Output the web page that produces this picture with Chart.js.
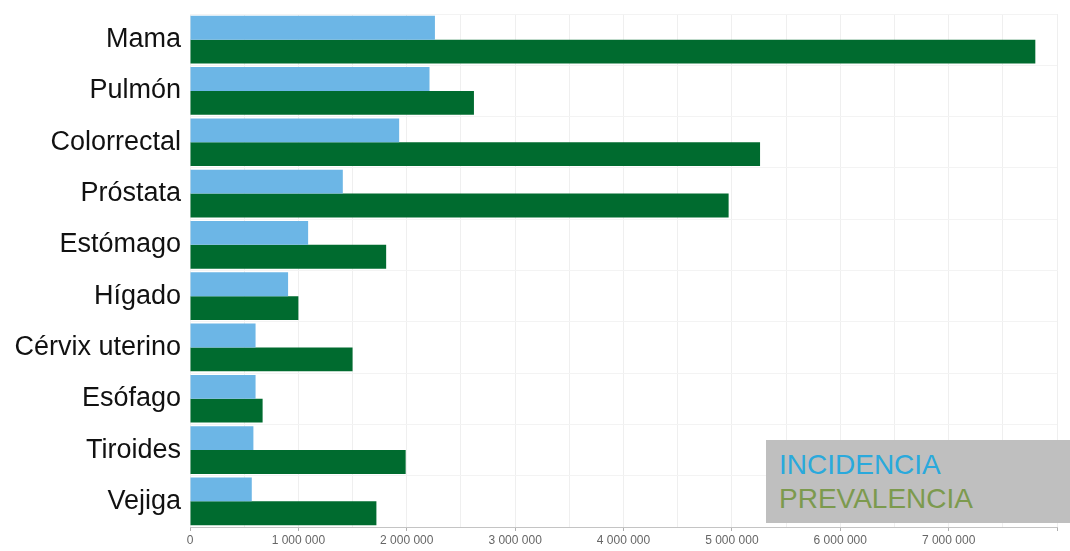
<!DOCTYPE html>
<html>
<head>
<meta charset="utf-8">
<script src="https://cdn.jsdelivr.net/npm/chart.js@4/dist/chart.umd.min.js"></script>
<style>
  html, body { margin: 0; padding: 0; background: #ffffff; }
  #wrap { position: relative; width: 1070px; height: 551px; overflow: hidden; }
  #legend {
    position: absolute; left: 766px; top: 440px; width: 304px; height: 83px;
    background: #bfbfbf; box-sizing: border-box; padding: 8px 0 0 13px;
    font-family: "Liberation Sans", Arial, sans-serif; font-size: 28px; line-height: 34px;
  }
  #legend .inc { color: #2aa9dc; }
  #legend .prev { color: #7c9a4e; }
</style>
</head>
<body>
<div id="wrap">
  <canvas id="c" width="1070" height="551"></canvas>
  <div id="legend"><div class="inc">INCIDENCIA</div><div class="prev">PREVALENCIA</div></div>
</div>
<script>
const categories = ["Mama", "Pulmón", "Colorrectal", "Próstata", "Estómago", "Hígado", "Cérvix uterino", "Esófago", "Tiroides", "Vejiga"];
const incidencia = [2260000, 2210000, 1930000, 1410000, 1090000, 905000, 605000, 605000, 585000, 570000];
const prevalencia = [7800000, 2620000, 5260000, 4970000, 1810000, 1000000, 1500000, 670000, 1990000, 1720000];
const seriesNames = ["INCIDENCIA", "PREVALENCIA"];
const xMax = 8000000;
const xStep = 500000;

function fmt(v) { return String(v).replace(/\B(?=(\d{3})+(?!\d))/g, ' '); }

new Chart(document.getElementById('c'), {
  type: 'bar',
  data: {
    labels: categories,
    datasets: [
      { label: seriesNames[0], data: incidencia, backgroundColor: '#6cb6e6', barPercentage: 1.0, categoryPercentage: 0.93 },
      { label: seriesNames[1], data: prevalencia, backgroundColor: '#006b2f', barPercentage: 1.0, categoryPercentage: 0.93 }
    ]
  },
  options: {
    indexAxis: 'y',
    responsive: false,
    animation: false,
    devicePixelRatio: 1,
    layout: { padding: { top: 14, right: 13, left: 0, bottom: 0 } },
    plugins: { legend: { display: false }, tooltip: { enabled: false } },
    scales: {
      x: {
        min: 0, max: xMax,
        afterFit: s => { s.height = 24; s.paddingLeft = 0; s.paddingRight = 0; },
        ticks: {
          stepSize: xStep, autoSkip: false, maxRotation: 0, padding: 2,
          color: '#666666',
          font: { family: 'Liberation Sans', size: 12 },
          callback: v => (v % 1000000 === 0 && v < xMax) ? fmt(v) : ''
        },
        grid: {
          color: '#efefef', lineWidth: 1, tickLength: 4,
          tickColor: ctx => (ctx.tick && ctx.tick.value % 1000000 === 0) ? '#b0b0b0' : 'rgba(0,0,0,0)'
        },
        border: { color: '#c4c4c4', width: 1 }
      },
      y: {
        afterFit: s => { s.width = 190; s.paddingTop = 0; s.paddingBottom = 0; },
        ticks: {
          color: '#111111', padding: 9,
          font: { family: 'Liberation Sans', size: 27 }
        },
        grid: { color: '#f3f3f3', drawTicks: false },
        border: { display: false }
      }
    }
  }
});
</script>
</body>
</html>
